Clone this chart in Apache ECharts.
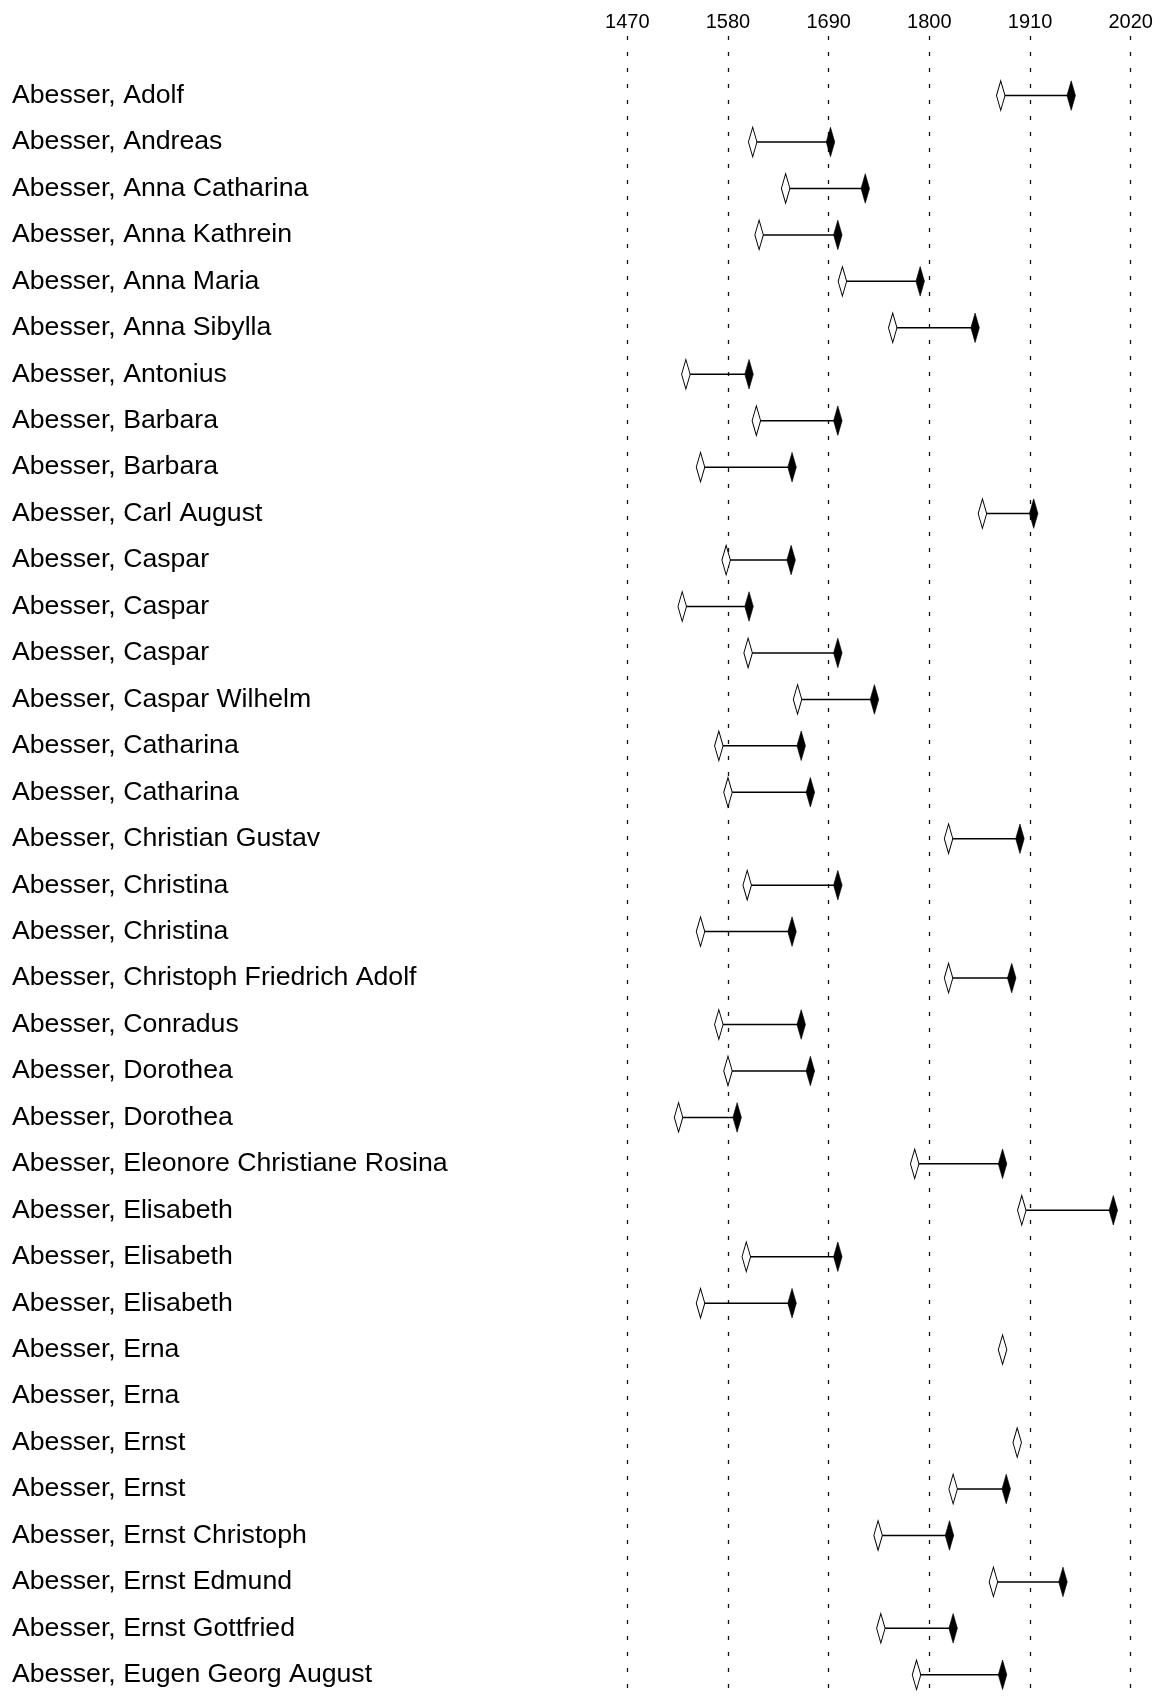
<!DOCTYPE html>
<html>
<head>
<meta charset="utf-8">
<script src="https://cdn.jsdelivr.net/npm/echarts@6/dist/echarts.min.js"></script>
<style>
  html, body { margin: 0; padding: 0; background: #fff; }
  #chart { width: 1164px; height: 1698px; }
</style>
</head>
<body>
<div id="chart"></div>
<script>
const names = [
  "Abesser, Adolf",
  "Abesser, Andreas",
  "Abesser, Anna Catharina",
  "Abesser, Anna Kathrein",
  "Abesser, Anna Maria",
  "Abesser, Anna Sibylla",
  "Abesser, Antonius",
  "Abesser, Barbara",
  "Abesser, Barbara",
  "Abesser, Carl August",
  "Abesser, Caspar",
  "Abesser, Caspar",
  "Abesser, Caspar",
  "Abesser, Caspar Wilhelm",
  "Abesser, Catharina",
  "Abesser, Catharina",
  "Abesser, Christian Gustav",
  "Abesser, Christina",
  "Abesser, Christina",
  "Abesser, Christoph Friedrich Adolf",
  "Abesser, Conradus",
  "Abesser, Dorothea",
  "Abesser, Dorothea",
  "Abesser, Eleonore Christiane Rosina",
  "Abesser, Elisabeth",
  "Abesser, Elisabeth",
  "Abesser, Elisabeth",
  "Abesser, Erna",
  "Abesser, Erna",
  "Abesser, Ernst",
  "Abesser, Ernst",
  "Abesser, Ernst Christoph",
  "Abesser, Ernst Edmund",
  "Abesser, Ernst Gottfried",
  "Abesser, Eugen Georg August"
];
const births = [1878,1607,1643,1614,1705,1760,1534,1611,1550,1858,1578,1530,1602,1656,1570,1580,1821,1601,1550,1821,1570,1580,1526,1784,1901,1600,1550,1880,null,1896,1826,1744,1870,1747,1786];
const deaths = [1955,1692,1730,1700,1790,1850,1603,1700,1650,1914,1649,1603,1700,1740,1660,1670,1899,1700,1650,1890,1660,1670,1590,1880,2001,1700,1650,null,null,null,1884,1822,1946,1826,1880];
const yearTicks = [1470, 1580, 1690, 1800, 1910, 2020];

const FONT = 'Arial, "Liberation Sans", sans-serif';
const xMin = yearTicks[0], xMax = yearTicks[yearTicks.length - 1], xStep = yearTicks[1] - yearTicks[0];

const segData = [], openData = [], fillData = [];
names.forEach((n, i) => {
  if (births[i] != null && deaths[i] != null) segData.push([births[i], deaths[i], i]);
  if (births[i] != null) openData.push([births[i], i]);
  if (deaths[i] != null) fillData.push([deaths[i], i]);
});

const GL = 627.3, GR = 33.3;
const ROW = 46.72;
const chart = echarts.init(document.getElementById('chart'), null, { renderer: 'canvas' });
chart.setOption({
  backgroundColor: '#ffffff',
  animation: false,
  grid: [
    { left: GL, right: GR, top: 36, bottom: 0 },
    { left: GL, right: GR, top: 95.7 - ROW / 2, height: ROW * names.length }
  ],
  xAxis: [
    {
      gridIndex: 0, type: 'value', position: 'top',
      min: xMin, max: xMax, interval: xStep,
      axisLine: { show: false }, axisTick: { show: false },
      axisLabel: { color: '#000', fontSize: 20, fontFamily: FONT, margin: 4,
                   formatter: function (v) { return String(v); } },
      splitLine: { show: true, lineStyle: { color: '#111', width: 1.3, type: [4, 12], dashOffset: 0 } }
    },
    {
      gridIndex: 1, type: 'value', min: xMin, max: xMax, interval: xStep, show: false,
      splitLine: { show: false }
    }
  ],
  yAxis: [
    { gridIndex: 0, type: 'value', show: false, min: 0, max: 1, splitLine: { show: false } },
    {
      gridIndex: 1, type: 'category', inverse: true, data: names,
      axisLine: { show: false }, axisTick: { show: false }, splitLine: { show: false },
      axisLabel: { align: 'left', margin: GL - 12, color: '#000', fontSize: 26.67, fontFamily: FONT,
                   interval: 0, padding: [3.6, 0, 0, 0] }
    }
  ],
  series: [
    {
      type: 'custom', xAxisIndex: 1, yAxisIndex: 1, data: segData,
      encode: { x: [0, 1], y: 2 },
      renderItem: function (params, api) {
        const p1 = api.coord([api.value(0), api.value(2)]);
        const p2 = api.coord([api.value(1), api.value(2)]);
        return {
          type: 'line',
          shape: { x1: p1[0], y1: p1[1], x2: p2[0], y2: p2[1] },
          style: { stroke: '#000', lineWidth: 1.5 }
        };
      },
      z: 2
    },
    {
      type: 'scatter', xAxisIndex: 1, yAxisIndex: 1, data: openData,
      symbol: 'diamond', symbolSize: [8.5, 29.5],
      itemStyle: { color: '#fff', borderColor: '#000', borderWidth: 1.3, opacity: 1 },
      z: 3
    },
    {
      type: 'scatter', xAxisIndex: 1, yAxisIndex: 1, data: fillData,
      symbol: 'diamond', symbolSize: [8.5, 29.5],
      itemStyle: { color: '#000', borderColor: '#000', borderWidth: 0.5, opacity: 1 },
      z: 4
    }
  ]
});
</script>
</body>
</html>
